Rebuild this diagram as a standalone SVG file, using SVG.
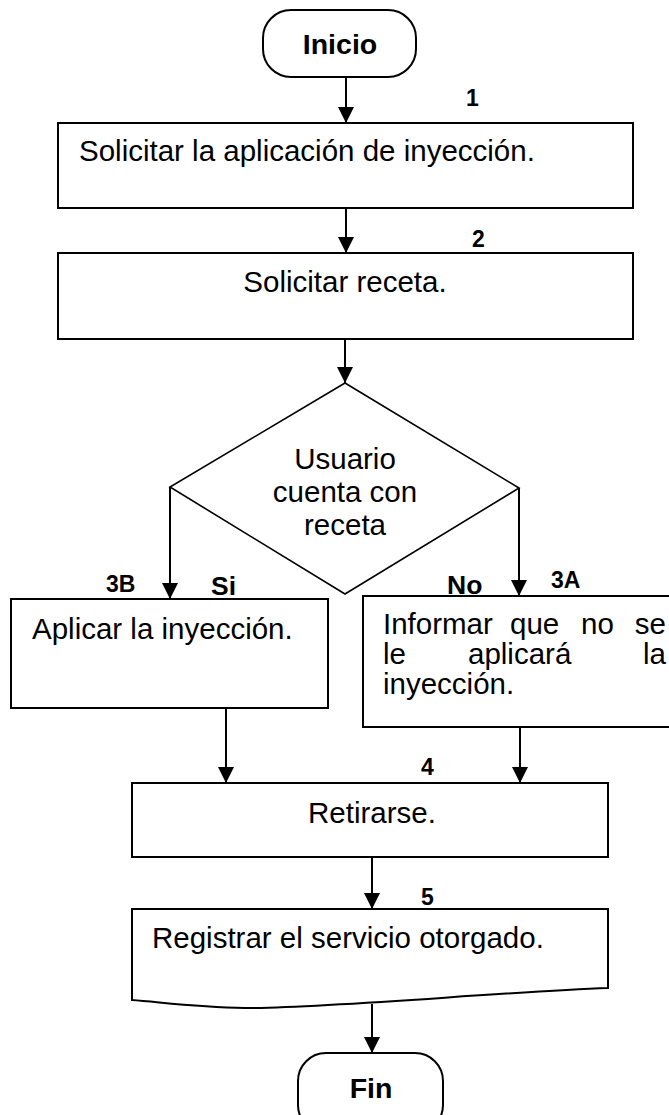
<svg xmlns="http://www.w3.org/2000/svg" width="669" height="1115" viewBox="0 0 669 1115">
<style>
.shape{fill:#fff;stroke:#000;stroke-width:2}
.dia{fill:#fff;stroke:#000;stroke-width:1.6}
.t{font-family:"Liberation Sans",Arial,sans-serif;font-size:29.5px;fill:#000}
.b{font-family:"Liberation Sans",Arial,sans-serif;font-weight:bold;fill:#000}
.term{font-size:28.5px}
.num{font-size:23px}
.yn{font-size:26.5px}
.c{stroke:#000;stroke-width:2;fill:none}
</style>
<defs>
<marker id="ah" markerUnits="userSpaceOnUse" markerWidth="16" markerHeight="16" refX="16" refY="8" orient="auto">
<path d="M0,0 L16,8 L0,16 z" fill="#000"/>
</marker>
</defs>
<rect width="669" height="1115" fill="#fff"/>
<g id="connectors">
<line class="c" x1="346" y1="77" x2="346" y2="123" marker-end="url(#ah)"/>
<line class="c" x1="346" y1="208" x2="346" y2="253" marker-end="url(#ah)"/>
<line class="c" x1="345" y1="339" x2="345" y2="383" marker-end="url(#ah)"/>
<line class="c" x1="170" y1="487" x2="170" y2="599" marker-end="url(#ah)"/>
<line class="c" x1="519" y1="488" x2="519" y2="596" marker-end="url(#ah)"/>
<line class="c" x1="226" y1="708" x2="226" y2="783" marker-end="url(#ah)"/>
<line class="c" x1="520" y1="727" x2="520" y2="783" marker-end="url(#ah)"/>
<line class="c" x1="372" y1="857" x2="372" y2="909" marker-end="url(#ah)"/>
<line class="c" x1="372" y1="1004" x2="372" y2="1053" marker-end="url(#ah)"/>
</g>
<g id="inicio">
<rect class="shape" x="263" y="10" width="153" height="67" rx="28" ry="28"/>
<text class="b term" x="340" y="54" text-anchor="middle">Inicio</text>
</g>
<g id="step1">
<rect class="shape" x="58" y="123" width="575" height="85"/>
<text class="t" x="79" y="161">Solicitar la aplicación de inyección.</text>
<text class="b num" x="466" y="106">1</text>
</g>
<g id="step2">
<rect class="shape" x="58" y="253" width="575" height="86"/>
<text class="t" x="345" y="292" text-anchor="middle">Solicitar receta.</text>
<text class="b num" x="472" y="247">2</text>
</g>
<g id="decision">
<polygon class="dia" points="345,383 519,488 345,594 170,487"/>
<text class="t" x="345" y="469" text-anchor="middle">Usuario</text>
<text class="t" x="345" y="502" text-anchor="middle">cuenta con</text>
<text class="t" x="345" y="535" text-anchor="middle">receta</text>
<text class="b yn" x="211" y="595">Si</text>
<text class="b yn" x="447" y="594">No</text>
</g>
<g id="step3B">
<rect class="shape" x="11" y="599" width="317" height="109"/>
<text class="t" x="32" y="639">Aplicar la inyección.</text>
<text class="b num" x="106" y="592">3B</text>
</g>
<g id="step3A">
<rect class="shape" x="363" y="596" width="330" height="131"/>
<text class="t" y="634"><tspan x="383">Informar</tspan><tspan x="510">que</tspan><tspan x="581">no</tspan><tspan x="666" text-anchor="end">se</tspan></text>
<text class="t" y="664"><tspan x="383">le</tspan><tspan x="468">aplicará</tspan><tspan x="666" text-anchor="end">la</tspan></text>
<text class="t" x="383" y="694">inyección.</text>
<text class="b num" x="551" y="588">3A</text>
</g>
<g id="step4">
<rect class="shape" x="132" y="783" width="476" height="74"/>
<text class="t" x="372" y="823" text-anchor="middle">Retirarse.</text>
<text class="b num" x="421" y="775">4</text>
</g>
<g id="step5">
<path class="shape" d="M132,909 H608 V988 C 500,992 330,1008 245,1008 C 195,1007 160,1002 132,1000 Z"/>
<text class="t" x="152" y="948">Registrar el servicio otorgado.</text>
<text class="b num" x="421" y="905">5</text>
</g>
<g id="fin">
<rect class="shape" x="298" y="1053" width="145" height="80" rx="28" ry="28"/>
<text class="b term" x="371" y="1098" text-anchor="middle">Fin</text>
</g>
</svg>
